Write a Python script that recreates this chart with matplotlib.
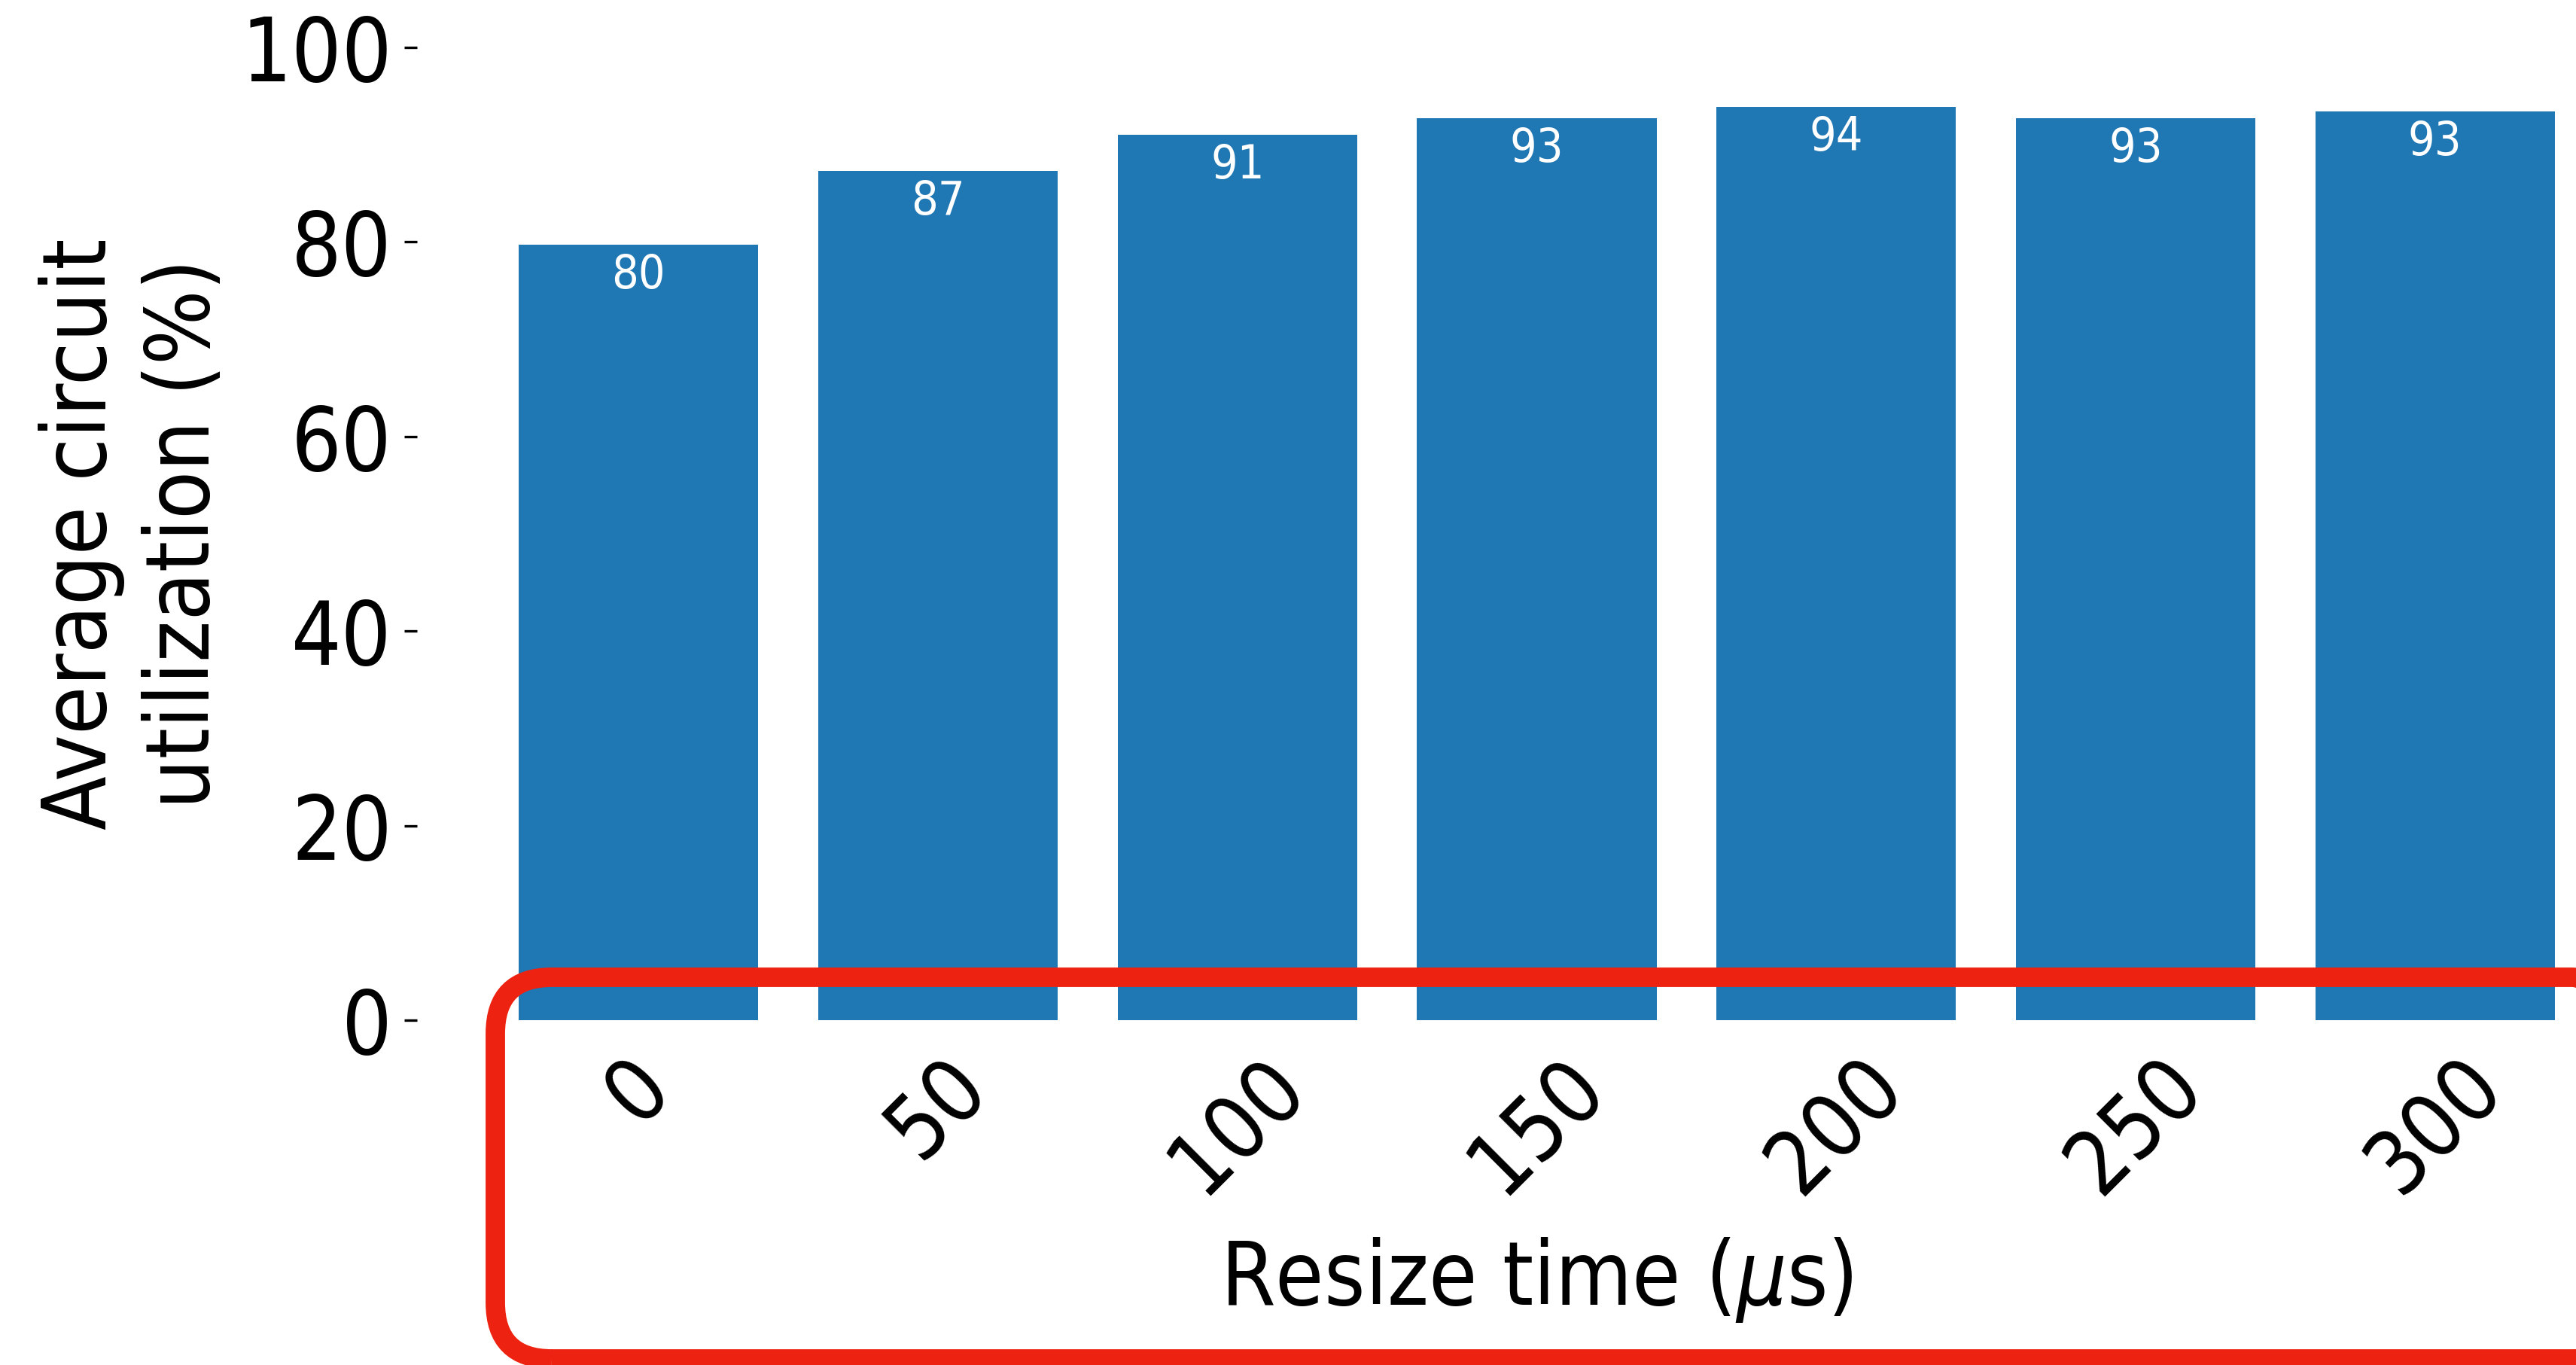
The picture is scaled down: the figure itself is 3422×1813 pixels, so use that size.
import matplotlib.pyplot as plt
from matplotlib.patches import FancyBboxPatch

plt.rcParams['font.family'] = ['DejaVu Sans']
plt.rcParams['font.stretch'] = 'condensed'

resize_times = ['0', '50', '100', '150', '200', '250', '300']
utilization = [79.7, 87.3, 91.0, 92.7, 93.9, 92.7, 93.4]

fig = plt.figure(figsize=(3422 / 300, 1813 / 300), dpi=300)
ax = fig.add_axes([0.1619, 0.2526, 0.8694, 0.7127])

x = range(len(resize_times))
bars = ax.bar(x, utilization, width=0.8, color='#1f77b4')
ax.bar_label(bars, labels=['{:.0f}'.format(v) for v in utilization],
             padding=-17, color='white', fontsize=15)

ax.set_xlim(-0.74, 6.74)
ax.set_ylim(0, 100)
ax.set_xticks(list(x))
ax.set_xticklabels(resize_times, rotation=45, ha='center', fontsize=28)
ax.set_yticks([0, 20, 40, 60, 80, 100])
ax.tick_params(axis='y', labelsize=28, length=4, width=0.8, pad=4)
ax.tick_params(axis='x', length=0, pad=7)
for s in ax.spines.values():
    s.set_visible(False)

ax.set_xlabel('Resize time ($\\mu$s)', fontsize=28, labelpad=8)
ax.set_ylabel('Average circuit\nutilization (%)', fontsize=28, linespacing=1.25)

# red highlight box around the x axis, running just past the right edge
box = FancyBboxPatch((658 / 300, 8 / 300), (3492 - 658) / 300, (1805 - 1298) / 300,
                     boxstyle='round,pad=0,rounding_size=0.25',
                     transform=fig.dpi_scale_trans, fill=False,
                     edgecolor='#ee2211', linewidth=6.2, clip_on=False)
fig.patches.append(box)

fig.savefig('out.png', dpi=300)
